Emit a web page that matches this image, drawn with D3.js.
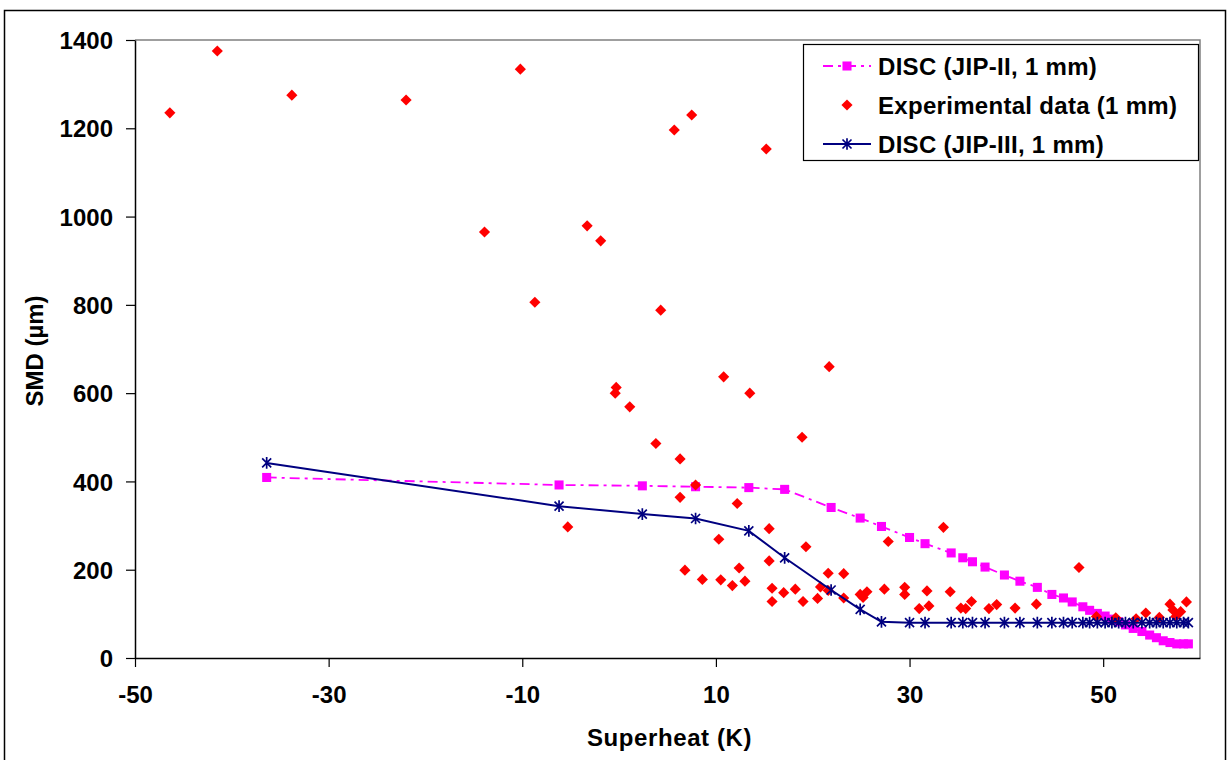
<!DOCTYPE html>
<html>
<head>
<meta charset="utf-8">
<script src="https://cdn.jsdelivr.net/npm/d3@7"></script>
<style>
  body { margin: 0; background: #fff; }
  text { font-family: "Liberation Sans", Arial, sans-serif; font-weight: bold; fill: #000; }
</style>
</head>
<body>
<div id="chart"></div>
<script>
// Experimental data (1 mm): superheat (K) and SMD (µm)
const expX = [-46.4, -41.5, -33.8, -22.0, -13.9, -10.2, -8.7, -5.3, -3.3, -1.9,
  -0.3, -0.4, 1.1, 3.8, 4.3, 5.7, 7.5, 6.3, 10.8, 13.5, 18.9, 21.7, 6.3, 7.9,
  12.2, 15.5, 19.3, 10.3, 6.8, 8.6, 10.5, 12.4, 11.7, 13.0, 15.5, 15.8, 15.8,
  17.0, 18.2, 19.0, 20.5, 20.8, 21.6, 27.8, 33.5, 47.5, 23.2, 21.6, 23.2, 24.9,
  25.2, 25.6, 27.4, 29.5, 29.5, 31.8, 31.0, 32.0, 34.2, 35.3, 35.8, 36.4, 38.2,
  39.0, 40.9, 43.1, 49.3, 51.3, 53.4, 54.4, 55.8, 56.9, 57.2, 58.0, 57.5, 58.6, 15.2];
const expY = [1235, 1375, 1275, 1264, 965, 1334, 806, 297, 979, 945,
  613, 600, 569, 486, 788, 1196, 1230, 451, 637, 600, 500, 660, 364, 392,
  350, 293, 252, 269, 199, 178, 177, 204, 164, 174, 220, 158, 128,
  148, 156, 128, 135, 161, 192, 264, 296, 205, 191, 153, 136, 144,
  137, 150, 156, 160, 144, 152, 112, 118, 150, 113, 112, 128, 112,
  121, 113, 122, 94, 91, 89, 102, 92, 122, 109, 105, 94, 127, 1153];

// DISC model runs share the same superheat values
const modelX = [-36.4, -6.2, 2.4, 7.9, 13.4, 17.1, 21.9, 24.9, 27.1, 30.0, 31.6,
  34.3, 35.5, 36.5, 37.8, 39.8, 41.4, 43.2, 44.7, 45.9, 46.8, 47.9, 48.6, 49.4,
  50.2, 50.9, 51.6, 52.3, 53.1, 54.0, 54.8, 55.5, 56.2, 56.9, 57.6, 58.3, 58.8];
const jip2Y = [409, 392, 390, 388, 386, 382, 341, 317, 298, 273, 259,
  238, 227, 218, 206, 188, 174, 160, 144, 136, 127, 116, 108, 101,
  95, 88, 82, 75, 67, 60, 52, 46, 39, 35, 32, 32, 32];
const jip3Y = [442, 344, 326, 316, 288, 227, 154, 110, 82, 80, 80,
  80, 80, 80, 80, 80, 80, 80, 80, 80, 80, 80, 80, 80,
  80, 80, 80, 80, 80, 80, 80, 80, 80, 80, 80, 80, 80];

const xTicks = [-50, -30, -10, 10, 30, 50];
const yTicks = [0, 200, 400, 600, 800, 1000, 1200, 1400];
const legendLabels = ["DISC (JIP-II, 1 mm)", "Experimental data (1 mm)", "DISC (JIP-III, 1 mm)"];

const W = 1228, H = 760;
const margin = {top: 40, right: 28, bottom: 102, left: 135},
      width = W - margin.left - margin.right,
      height = H - margin.top - margin.bottom;

const root = d3.select("#chart").append("svg")
  .attr("width", W).attr("height", H);

// outer frame
root.append("rect")
  .attr("x", 4.5).attr("y", 10.5)
  .attr("width", 1221).attr("height", 780)
  .attr("fill", "none").attr("stroke", "#000").attr("stroke-width", 1.5);

const svg = root.append("g")
  .attr("transform", `translate(${margin.left},${margin.top})`);

const x = d3.scaleLinear().domain([-50, 60]).range([0, width]);
const y = d3.scaleLinear().domain([0, 1400]).range([height, 0]);

// plot area border (top/right grey)
svg.append("path")
  .attr("d", `M0,0H${width}V${height}`)
  .attr("fill", "none").attr("stroke", "#808080").attr("stroke-width", 1.5);

// axes
const fmt = d => String(d);
const xAxis = svg.append("g")
  .attr("transform", `translate(0,${height})`)
  .call(d3.axisBottom(x).tickValues(xTicks).tickFormat(fmt).tickSize(9).tickPadding(19).tickSizeOuter(0));
const yAxis = svg.append("g")
  .call(d3.axisLeft(y).tickValues(yTicks).tickFormat(fmt).tickSize(9).tickPadding(13).tickSizeOuter(0));

[xAxis, yAxis].forEach(a => {
  a.select(".domain").attr("stroke", "#000").attr("stroke-width", 1.5);
  a.selectAll(".tick line").attr("stroke", "#000").attr("stroke-width", 1.2);
  a.selectAll(".tick text")
    .style("font-family", "'Liberation Sans', Arial, sans-serif")
    .style("font-weight", "bold")
    .style("font-size", "24px")
    .attr("fill", "#000");
});
yAxis.selectAll(".tick text").attr("dy", "0.36em");

// axis titles
svg.append("text")
  .attr("x", width / 2 + 2).attr("y", height + 88)
  .attr("text-anchor", "middle")
  .style("font-size", "24px")
  .style("letter-spacing", "0.6px")
  .text("Superheat (K)");

svg.append("text")
  .attr("transform", `translate(${-92},${height / 2 + 2}) rotate(-90)`)
  .attr("text-anchor", "middle")
  .style("font-size", "24px")
  .text("SMD (µm)");

// marker paths
const diamond = d3.symbol().type(d3.symbolSquare).size(62);
const square = d3.symbol().type(d3.symbolSquare).size(82);
const star = r => `M${-r},${-r}L${r},${r}M${-r},${r}L${r},${-r}M0,${-r * 1.3}L0,${r * 1.3}`;

const model2 = modelX.map((v, i) => ({x: v, y: jip2Y[i]}));
const model3 = modelX.map((v, i) => ({x: v, y: jip3Y[i]}));
const expData = expX.map((v, i) => ({x: v, y: expY[i]}));

const line = d3.line().x(d => x(d.x)).y(d => y(d.y));

// DISC (JIP-II)
svg.append("path")
  .datum(model2)
  .attr("d", line)
  .attr("fill", "none").attr("stroke", "#FF00FF")
  .attr("stroke-width", 1.8)
  .attr("stroke-dasharray", "10,5,3,5");

svg.selectAll(".sq").data(model2).enter().append("path")
  .attr("class", "sq")
  .attr("d", square)
  .attr("transform", d => `translate(${x(d.x)},${y(d.y)})`)
  .attr("fill", "#FF00FF");

// Experimental data
svg.selectAll(".dia").data(expData).enter().append("path")
  .attr("class", "dia")
  .attr("d", diamond)
  .attr("transform", d => `translate(${x(d.x)},${y(d.y)}) rotate(45)`)
  .attr("fill", "#FF0000");

// DISC (JIP-III)
svg.append("path")
  .datum(model3)
  .attr("d", line)
  .attr("fill", "none").attr("stroke", "#000080")
  .attr("stroke-width", 2);

svg.selectAll(".st").data(model3).enter().append("path")
  .attr("class", "st")
  .attr("d", star(4.5))
  .attr("transform", d => `translate(${x(d.x)},${y(d.y)})`)
  .attr("fill", "none").attr("stroke", "#000080").attr("stroke-width", 1.7);

// legend
const lg = root.append("g").attr("transform", "translate(803,44)");
lg.append("rect")
  .attr("x", 0.5).attr("y", 0.5).attr("width", 395).attr("height", 116)
  .attr("fill", "#fff").attr("stroke", "#000").attr("stroke-width", 1.2);

const rowY = [22, 61, 100];
// row 1
lg.append("line").attr("x1", 20).attr("x2", 68).attr("y1", rowY[0]).attr("y2", rowY[0])
  .attr("stroke", "#FF00FF").attr("stroke-width", 1.8).attr("stroke-dasharray", "10,5,3,5");
lg.append("path").attr("d", square).attr("transform", `translate(44,${rowY[0]})`).attr("fill", "#FF00FF");
// row 2
lg.append("path").attr("d", diamond).attr("transform", `translate(44,${rowY[1]}) rotate(45)`).attr("fill", "#FF0000");
// row 3
lg.append("line").attr("x1", 20).attr("x2", 68).attr("y1", rowY[2]).attr("y2", rowY[2])
  .attr("stroke", "#000080").attr("stroke-width", 2);
lg.append("path").attr("d", star(4.5)).attr("transform", `translate(44,${rowY[2]})`)
  .attr("fill", "none").attr("stroke", "#000080").attr("stroke-width", 1.7);

lg.selectAll(".lt").data(legendLabels).enter().append("text")
  .attr("class", "lt")
  .attr("x", 75).attr("y", (d, i) => rowY[i])
  .attr("dy", "0.36em")
  .style("font-size", "24px")
  .style("letter-spacing", "0.3px")
  .text(d => d);
</script>
</body>
</html>
